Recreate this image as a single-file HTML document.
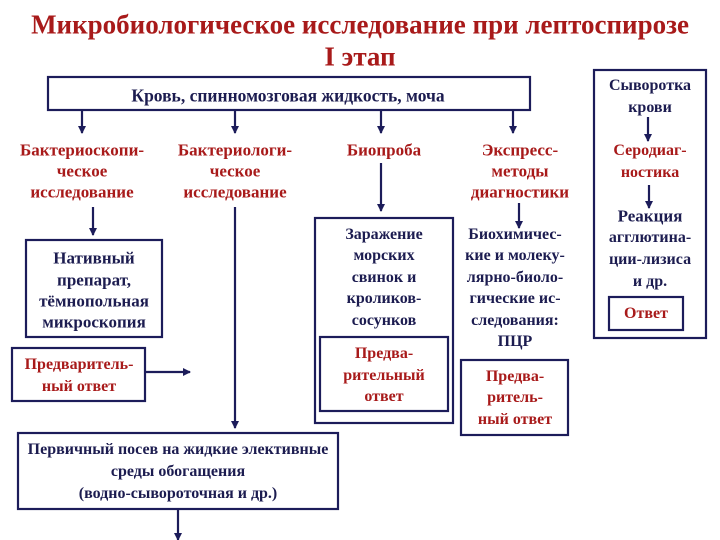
<!DOCTYPE html>
<html><head><meta charset="utf-8"><style>
body{margin:0;width:720px;height:540px;background:#fff;position:relative;overflow:hidden;font-family:"Liberation Serif",serif;font-weight:bold}
.t{position:absolute;text-align:center;white-space:nowrap;transform:translate(-50%,-50%);font-size:16px;color:#1c1c50;line-height:1}
.r{color:#a81a1a}
.h{font-size:17px}
svg{position:absolute;left:0;top:0}
</style></head><body>
<svg width="720" height="540">
<defs><marker id="a" markerWidth="8" markerHeight="8" refX="7" refY="4" orient="auto" markerUnits="userSpaceOnUse"><path d="M0,0 L8,4 L0,8 Z" fill="#1c1c5a"/></marker></defs>
<g fill="none" stroke="#1c1c5a" stroke-width="2.2">
<rect x="48" y="77" width="482" height="33"/>
<rect x="26" y="240" width="136" height="97"/>
<rect x="12" y="348" width="133" height="53"/>
<rect x="315" y="218" width="138" height="205"/>
<rect x="320" y="337" width="128" height="74"/>
<rect x="461" y="360" width="107" height="75"/>
<rect x="594" y="70" width="112" height="268"/>
<rect x="609" y="297" width="74" height="33"/>
<rect x="18" y="433" width="320" height="76"/>
<g marker-end="url(#a)">
<line x1="82" y1="110" x2="82" y2="133"/>
<line x1="235" y1="110" x2="235" y2="133"/>
<line x1="381" y1="110" x2="381" y2="133"/>
<line x1="513" y1="110" x2="513" y2="133"/>
<line x1="93" y1="207" x2="93" y2="235"/>
<line x1="235" y1="207" x2="235" y2="428"/>
<line x1="381" y1="163" x2="381" y2="211"/>
<line x1="519" y1="203" x2="519" y2="228"/>
<line x1="648" y1="117" x2="648" y2="141"/>
<line x1="649" y1="185" x2="649" y2="208"/>
<line x1="145" y1="372" x2="190" y2="372"/>
<line x1="178" y1="509" x2="178" y2="540"/>
</g></g></svg>
<div class="t r" style="left:360px;top:25px;font-size:27px">Микробиологическое исследование при лептоспирозе</div>
<div class="t r" style="left:360px;top:57px;font-size:27px">I этап</div>
<div class="t" style="left:288px;top:96px;font-size:17.5px">Кровь, спинномозговая жидкость, моча</div>
<div class="t r h" style="left:82px;top:150px">Бактериоскопи-</div>
<div class="t r h" style="left:82px;top:171px">ческое</div>
<div class="t r h" style="left:82px;top:192px">исследование</div>
<div class="t r h" style="left:235px;top:150px">Бактериологи-</div>
<div class="t r h" style="left:235px;top:171px">ческое</div>
<div class="t r h" style="left:235px;top:192px">исследование</div>
<div class="t r h" style="left:384px;top:150px">Биопроба</div>
<div class="t r h" style="left:520px;top:150px">Экспресс-</div>
<div class="t r h" style="left:520px;top:171px">методы</div>
<div class="t r h" style="left:520px;top:192px">диагностики</div>
<div class="t h" style="left:94px;top:258px">Нативный</div>
<div class="t h" style="left:94px;top:280px">препарат,</div>
<div class="t h" style="left:94px;top:301px">тёмнопольная</div>
<div class="t h" style="left:94px;top:322px">микроскопия</div>
<div class="t r" style="left:79px;top:365px">Предваритель-</div>
<div class="t r" style="left:79px;top:387px">ный ответ</div>
<div class="t" style="left:384px;top:235px">Заражение</div>
<div class="t" style="left:384px;top:256px">морских</div>
<div class="t" style="left:384px;top:278px">свинок и</div>
<div class="t" style="left:384px;top:299px">кроликов-</div>
<div class="t" style="left:384px;top:321px">сосунков</div>
<div class="t r" style="left:384px;top:354px">Предва-</div>
<div class="t r" style="left:384px;top:376px">рительный</div>
<div class="t r" style="left:384px;top:397px">ответ</div>
<div class="t" style="left:515px;top:235px">Биохимичес-</div>
<div class="t" style="left:515px;top:256px">кие и молеку-</div>
<div class="t" style="left:515px;top:278px">лярно-биоло-</div>
<div class="t" style="left:515px;top:299px">гические ис-</div>
<div class="t" style="left:515px;top:321px">следования:</div>
<div class="t" style="left:515px;top:342px">ПЦР</div>
<div class="t r" style="left:515px;top:377px">Предва-</div>
<div class="t r" style="left:515px;top:398px">ритель-</div>
<div class="t r" style="left:515px;top:420px">ный ответ</div>
<div class="t" style="left:650px;top:86px">Сыворотка</div>
<div class="t" style="left:650px;top:108px">крови</div>
<div class="t r" style="left:650px;top:151px">Серодиаг-</div>
<div class="t r" style="left:650px;top:173px">ностика</div>
<div class="t h" style="left:650px;top:216px">Реакция</div>
<div class="t" style="left:650px;top:238px">агглютина-</div>
<div class="t" style="left:650px;top:260px">ции-лизиса</div>
<div class="t" style="left:650px;top:282px">и др.</div>
<div class="t r" style="left:646px;top:314px">Ответ</div>
<div class="t" style="left:178px;top:450px">Первичный посев на жидкие элективные</div>
<div class="t" style="left:178px;top:472px">среды обогащения</div>
<div class="t" style="left:178px;top:494px">(водно-сывороточная и др.)</div>
</body></html>
